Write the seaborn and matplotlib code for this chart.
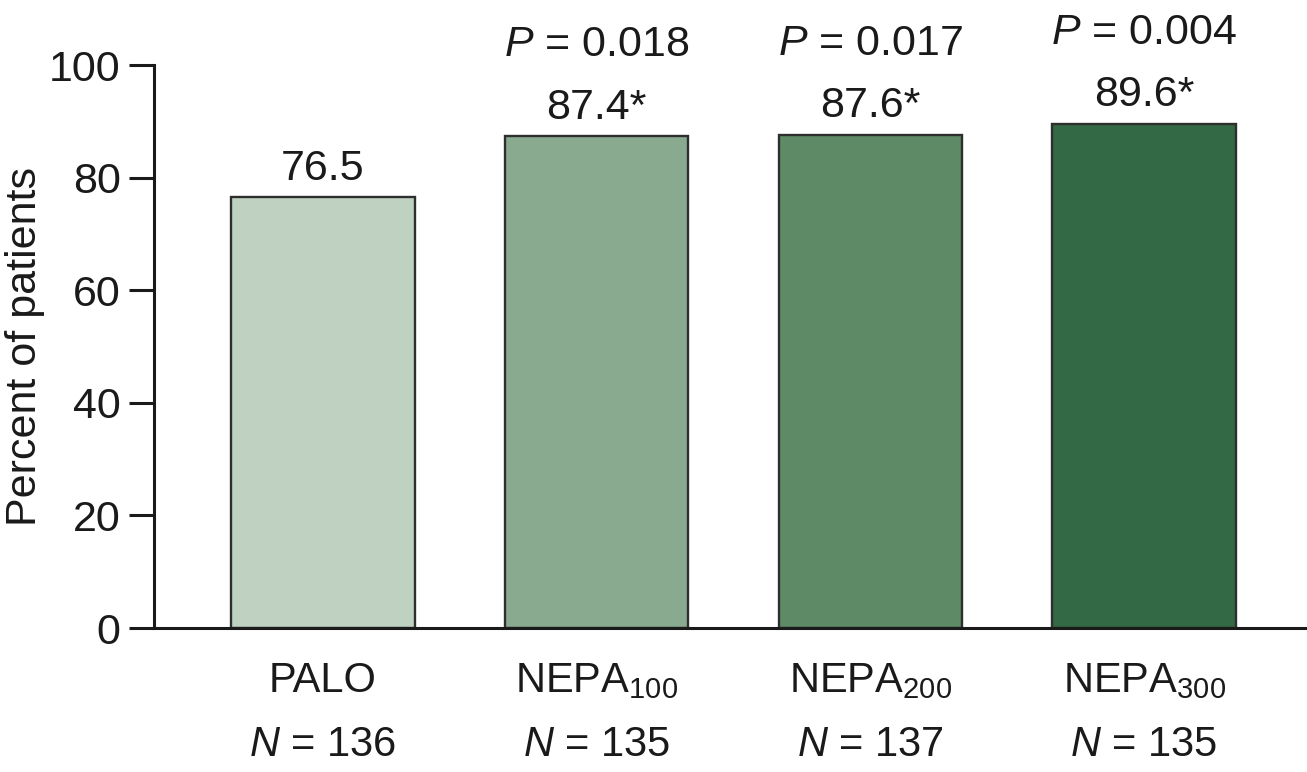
import matplotlib
matplotlib.use("Agg")
import matplotlib.pyplot as plt
import seaborn as sns
import pandas as pd

# Response rates per treatment arm
groups = ["PALO", "NEPA100", "NEPA200", "NEPA300"]
group_labels = ["PALO", r"NEPA$_{100}$", r"NEPA$_{200}$", r"NEPA$_{300}$"]
percent = [76.5, 87.4, 87.6, 89.6]
value_text = ["76.5", "87.4*", "87.6*", "89.6*"]
p_values = [None, "0.018", "0.017", "0.004"]
n_patients = [136, 135, 137, 135]
bar_colors = ["#bfd2c2", "#8aaa8f", "#5e8a66", "#336a45"]
y_ticks = [0, 20, 40, 60, 80, 100]

sns.set_theme(style="white")
plt.rcParams["font.family"] = ["Liberation Sans", "DejaVu Sans"]
plt.rcParams["mathtext.fontset"] = "custom"
plt.rcParams["mathtext.rm"] = "Liberation Sans"
plt.rcParams["mathtext.it"] = "Liberation Sans:italic"
plt.rcParams["mathtext.default"] = "regular"

df = pd.DataFrame({"group": groups, "percent": percent})

fig = plt.figure(figsize=(13.07, 7.72), dpi=100)
ax = fig.add_axes([0.1178, 0.1865, 0.8822, 0.7293])

sns.barplot(data=df, x="group", y="percent", hue="group", palette=bar_colors,
            legend=False, width=0.67, edgecolor="#2e2e2e", linewidth=1.7,
            saturation=1, ax=ax)

ax.set_ylim(0, 100)
ax.set_xlim(-0.617, 3.595)
ax.set_yticks(y_ticks)
ax.set_xticks(range(len(groups)))
ax.set_xticklabels(group_labels)
ax.set_xlabel("")
ax.set_ylabel("Percent of patients", fontsize=31, color="#1a1a1a", labelpad=3)

for side in ["top", "right"]:
    ax.spines[side].set_visible(False)
for side in ["left", "bottom"]:
    ax.spines[side].set_linewidth(2.2)
    ax.spines[side].set_color("#1a1a1a")

ax.tick_params(axis="y", which="major", direction="out", length=18, width=2.2,
               color="#1a1a1a", labelsize=31, pad=6, labelcolor="#1a1a1a")
ax.tick_params(axis="x", which="major", length=0, labelsize=30, pad=24,
               labelcolor="#1a1a1a")
ax.tick_params(axis="y", left=True)

# Bar value labels and P values above each bar
for i, (v, t, p) in enumerate(zip(percent, value_text, p_values)):
    ax.annotate(t, (i, v), xytext=(0, 6), textcoords="offset points",
                ha="center", va="bottom", fontsize=31, color="#1a1a1a")
    if p is not None:
        ax.annotate(rf"$\mathit{{P}}$ = {p}", (i, v), xytext=(0, 51),
                    textcoords="offset points", ha="center", va="bottom",
                    fontsize=31, color="#1a1a1a", annotation_clip=False)

# Sample sizes under the group names
trans = ax.get_xaxis_transform()
for i, n in enumerate(n_patients):
    ax.text(i, -0.228, rf"$\mathit{{N}}$ = {n}", transform=trans, ha="center",
            va="baseline", fontsize=30, color="#1a1a1a")

fig.savefig("out.png", dpi=100)
